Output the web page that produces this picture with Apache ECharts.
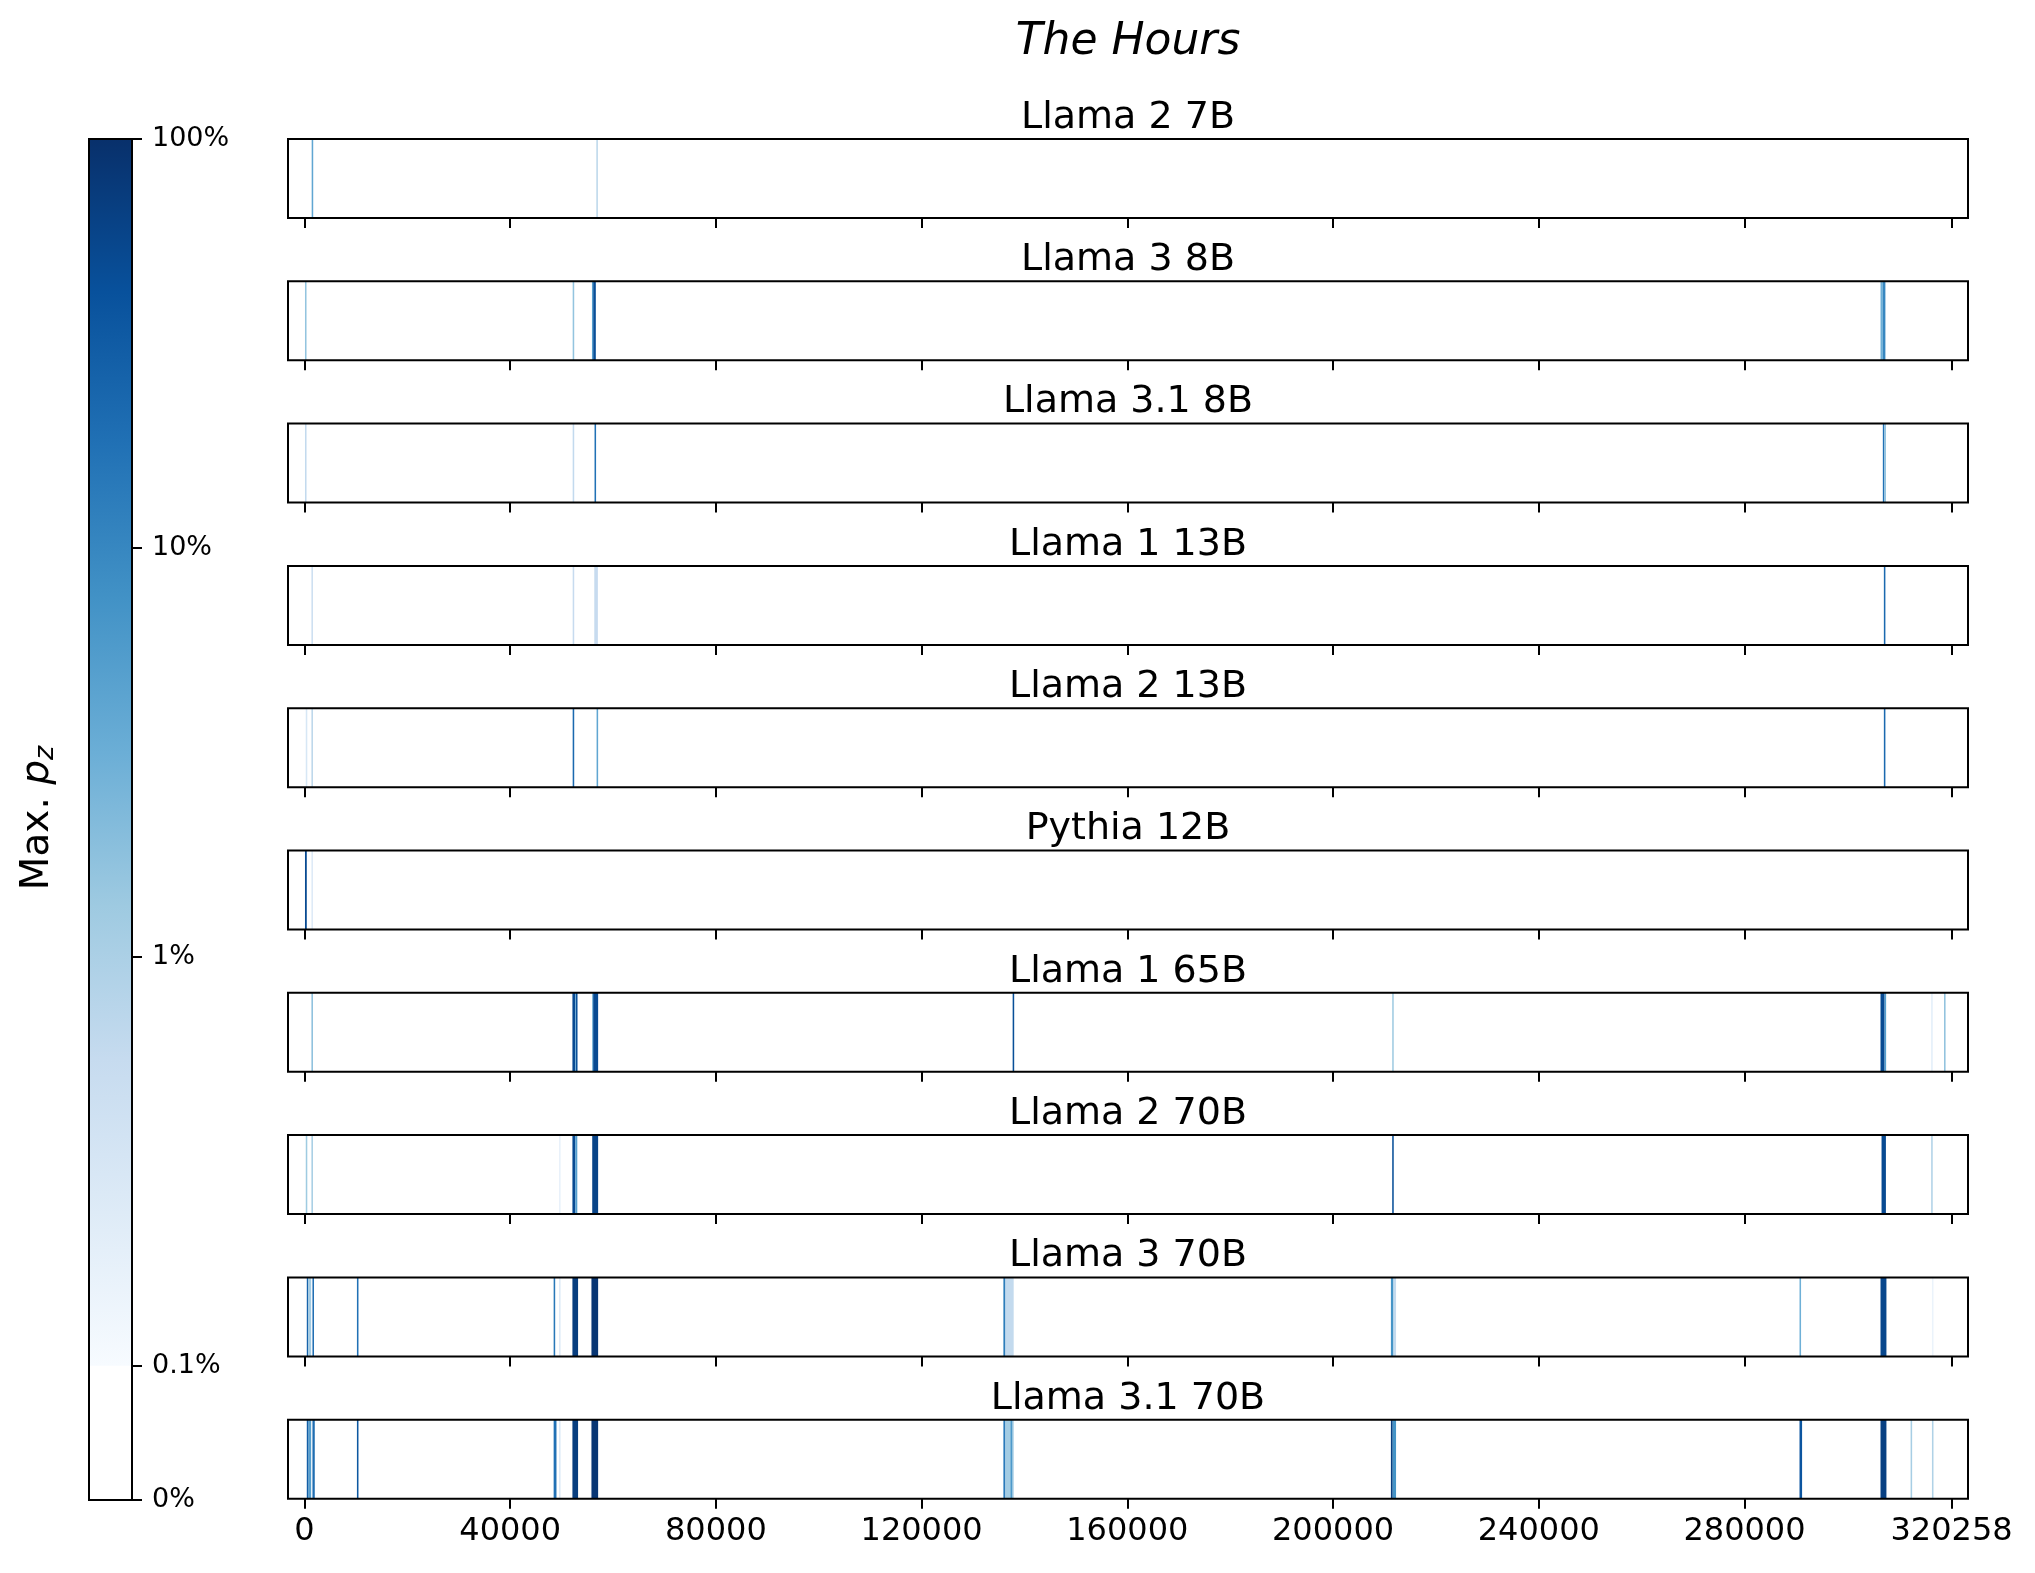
<!DOCTYPE html>
<html>
<head>
<meta charset="utf-8">
<title>The Hours</title>
<script src="https://cdn.jsdelivr.net/npm/echarts@6/dist/echarts.min.js"></script>
<style>
html, body { margin: 0; padding: 0; background: #fff; }
#main { width: 2035px; height: 1573px; }
</style>
</head>
<body>
<div id="main"></div>
<script>
var models = ['Llama 2 7B', 'Llama 3 8B', 'Llama 3.1 8B', 'Llama 1 13B', 'Llama 2 13B',
	'Pythia 12B', 'Llama 1 65B', 'Llama 2 70B', 'Llama 3 70B', 'Llama 3.1 70B'];
var xTicks = [0, 40000, 80000, 120000, 160000, 200000, 240000, 280000, 320258];
var cbTickValues = [0, 0.1, 1, 10, 100];
var cbTickLabels = ['0%', '0.1%', '1%', '10%', '100%'];

// stripes: [first token, last token, max p_z in %]
var llama2_7b = [[1400, 1700, 4], [56750, 57050, 0.7]];
var llama3_8b = [[100, 400, 1.6], [52150, 52450, 1.6], [55900, 56150, 5], [56150, 56650, 45],
	[306450, 306900, 3], [306900, 307400, 10]];
var llama31_8b = [[100, 400, 0.6], [52150, 52450, 0.6], [56400, 56700, 18],
	[306900, 307200, 18], [307200, 307500, 1.8]];
var llama1_13b = [[1350, 1650, 0.45], [52150, 52450, 0.55], [56350, 57050, 0.55], [307100, 307400, 22]];
var llama2_13b = [[250, 550, 0.3], [1350, 1650, 0.7], [52150, 52450, 22], [56800, 57100, 4],
	[307100, 307400, 22]];
var pythia_12b = [[100, 450, 50], [1350, 1650, 0.25]];
var llama1_65b = [[1350, 1650, 1.8], [52100, 52650, 50], [52650, 52800, 5], [52800, 53050, 45],
	[55950, 56150, 4], [56150, 57100, 50], [137700, 138000, 45], [211500, 211800, 1.3],
	[306450, 307250, 50], [307250, 307450, 5], [316300, 316600, 0.2], [318800, 319100, 1.7]];
var llama2_70b = [[250, 550, 1.3], [1350, 1650, 1.1], [49500, 49800, 0.17], [52100, 52650, 50],
	[52650, 53050, 5], [55950, 57100, 60], [211500, 211800, 45], [306650, 307500, 50],
	[316300, 316600, 0.9]];
var llama3_70b = [[450, 750, 25], [750, 1300, 1.2], [1550, 1850, 20], [10200, 10500, 18],
	[48450, 48750, 15], [49500, 49800, 0.25], [52100, 53200, 70], [55800, 57100, 85],
	[135900, 136300, 13], [136300, 137900, 0.6], [211250, 211750, 7], [211750, 212250, 0.6],
	[290700, 291000, 3], [306450, 307600, 55], [316450, 316750, 0.15]];
var llama31_70b = [[450, 800, 30], [800, 1300, 5], [1550, 2000, 20], [10200, 10500, 35],
	[48450, 49000, 18], [49500, 49800, 0.25], [52100, 53200, 70], [55800, 57100, 85],
	[135900, 136300, 14], [136300, 137900, 1.2], [137300, 137600, 6], [211250, 211600, 70],
	[211600, 212250, 7], [290700, 291200, 38], [306450, 307600, 65], [312300, 312600, 1.1],
	[316450, 316750, 0.9]];

var stripes = [llama2_7b, llama3_8b, llama31_8b, llama1_13b, llama2_13b,
	pythia_12b, llama1_65b, llama2_70b, llama3_70b, llama31_70b];

var blues = ['#f7fbff', '#deebf7', '#c6dbef', '#9ecae1', '#6baed6', '#4292c6', '#2171b5', '#08519c', '#08306b'];
var LIN = 0.328; // height of the linear 0..0.1% part of the colour bar, in decades
var FONT = 'DejaVu Sans';

function tr(v) {
	return v <= 0.1 ? v / 0.1 * LIN : LIN + Math.log10(v / 0.1);
}
function hex(c) {
	return [parseInt(c.substr(1, 2), 16), parseInt(c.substr(3, 2), 16), parseInt(c.substr(5, 2), 16)];
}
function colorFor(v) {
	if (v < 0.1) return '#ffffff';
	var t = Math.min(1, Math.log10(v / 0.1) / 3) * (blues.length - 1);
	var i = Math.min(Math.floor(t), blues.length - 2), f = t - i;
	var a = hex(blues[i]), b = hex(blues[i + 1]);
	return 'rgb(' + [0, 1, 2].map(function (k) { return Math.round(a[k] + (b[k] - a[k]) * f); }).join(',') + ')';
}

function renderStripe(params, api) {
	var p0 = api.coord([api.value(0), 1]);
	var p1 = api.coord([api.value(1), 0]);
	return {
		type: 'rect',
		shape: { x: p0[0], y: p0[1], width: Math.max(p1[0] - p0[0], 1.5), height: p1[1] - p0[1] },
		style: { fill: colorFor(api.value(2)) }
	};
}
function renderColorbar(params, api) {
	var lo = api.coord([0, tr(0.1)]), hi = api.coord([1, tr(100)]);
	var stops = blues.map(function (c, k) { return { offset: k / (blues.length - 1), color: c }; });
	return {
		type: 'rect',
		shape: { x: lo[0], y: hi[1], width: hi[0] - lo[0], height: lo[1] - hi[1] },
		style: { fill: { type: 'linear', x: 0, y: 1, x2: 0, y2: 0, colorStops: stops } }
	};
}

var grids = [], xAxes = [], yAxes = [], series = [], titles = [];
titles.push({
	text: 'The Hours', left: 1128, top: 21, padding: 0, textAlign: 'center',
	textStyle: { fontFamily: FONT, fontStyle: 'italic', fontWeight: 'normal', fontSize: 44, lineHeight: 44, color: '#000' }
});

models.forEach(function (name, i) {
	var top = 139 + i * 142.3;
	grids.push({ left: 288, right: 67, top: top, height: 79, show: true, borderColor: '#000', borderWidth: 2, z: 3 });
	titles.push({
		text: name, left: 1128, top: top - 40, padding: 0, textAlign: 'center',
		textStyle: { fontFamily: FONT, fontWeight: 'normal', fontSize: 38, lineHeight: 38, color: '#000' }
	});
	xAxes.push({
		type: 'value', gridIndex: i, min: -3203, max: 323461,
		axisLine: { show: false, onZero: false },
		splitLine: { show: false },
		axisTick: { show: true, customValues: xTicks, length: 10, lineStyle: { color: '#000', width: 2 } },
		axisLabel: {
			show: i === models.length - 1, customValues: xTicks, margin: 17,
			fontFamily: FONT, fontSize: 32, color: '#000',
			formatter: function (v) { return String(v); }
		}
	});
	yAxes.push({ type: 'value', gridIndex: i, min: 0, max: 1, show: false });
	series.push({
		type: 'custom', xAxisIndex: i, yAxisIndex: i, data: stripes[i],
		renderItem: renderStripe, clip: true, silent: true
	});
});

// colour bar
var cb = models.length;
grids.push({ left: 89, width: 43, top: 139, height: 1361, show: true, borderColor: '#000', borderWidth: 2, z: 3 });
xAxes.push({ type: 'value', gridIndex: cb, min: 0, max: 1, show: false });
yAxes.push({
	type: 'value', gridIndex: cb, min: 0, max: tr(100), position: 'right',
	axisLine: { show: false, onZero: false },
	splitLine: { show: false },
	axisTick: { show: true, inside: false, customValues: cbTickValues.map(tr), length: 10, lineStyle: { color: '#000', width: 2 } },
	axisLabel: {
		customValues: cbTickValues.map(tr), margin: 20, fontFamily: FONT, fontSize: 27, color: '#000',
		formatter: function (v) {
			for (var k = 0; k < cbTickValues.length; k++) {
				if (Math.abs(tr(cbTickValues[k]) - v) < 1e-6) return cbTickLabels[k];
			}
			return '';
		}
	}
});
series.push({
	type: 'custom', xAxisIndex: cb, yAxisIndex: cb, data: [[0]],
	renderItem: renderColorbar, silent: true
});

var myChart = echarts.init(document.getElementById('main'));
myChart.setOption({
	animation: false,
	backgroundColor: '#fff',
	title: titles,
	grid: grids,
	xAxis: xAxes,
	yAxis: yAxes,
	series: series,
	graphic: [{
		type: 'text', x: 38, y: 818, rotation: Math.PI / 2,
		style: {
			text: 'Max. {p|p}{z|z}', fontFamily: FONT, fontSize: 39, fill: '#000',
			align: 'center', verticalAlign: 'middle',
			rich: {
				p: { fontFamily: FONT, fontStyle: 'italic', fontSize: 39, fill: '#000' },
				z: { fontFamily: FONT, fontStyle: 'italic', fontSize: 27, fill: '#000', padding: [16, 0, 0, 0] }
			}
		}
	}]
});
</script>
</body>
</html>
